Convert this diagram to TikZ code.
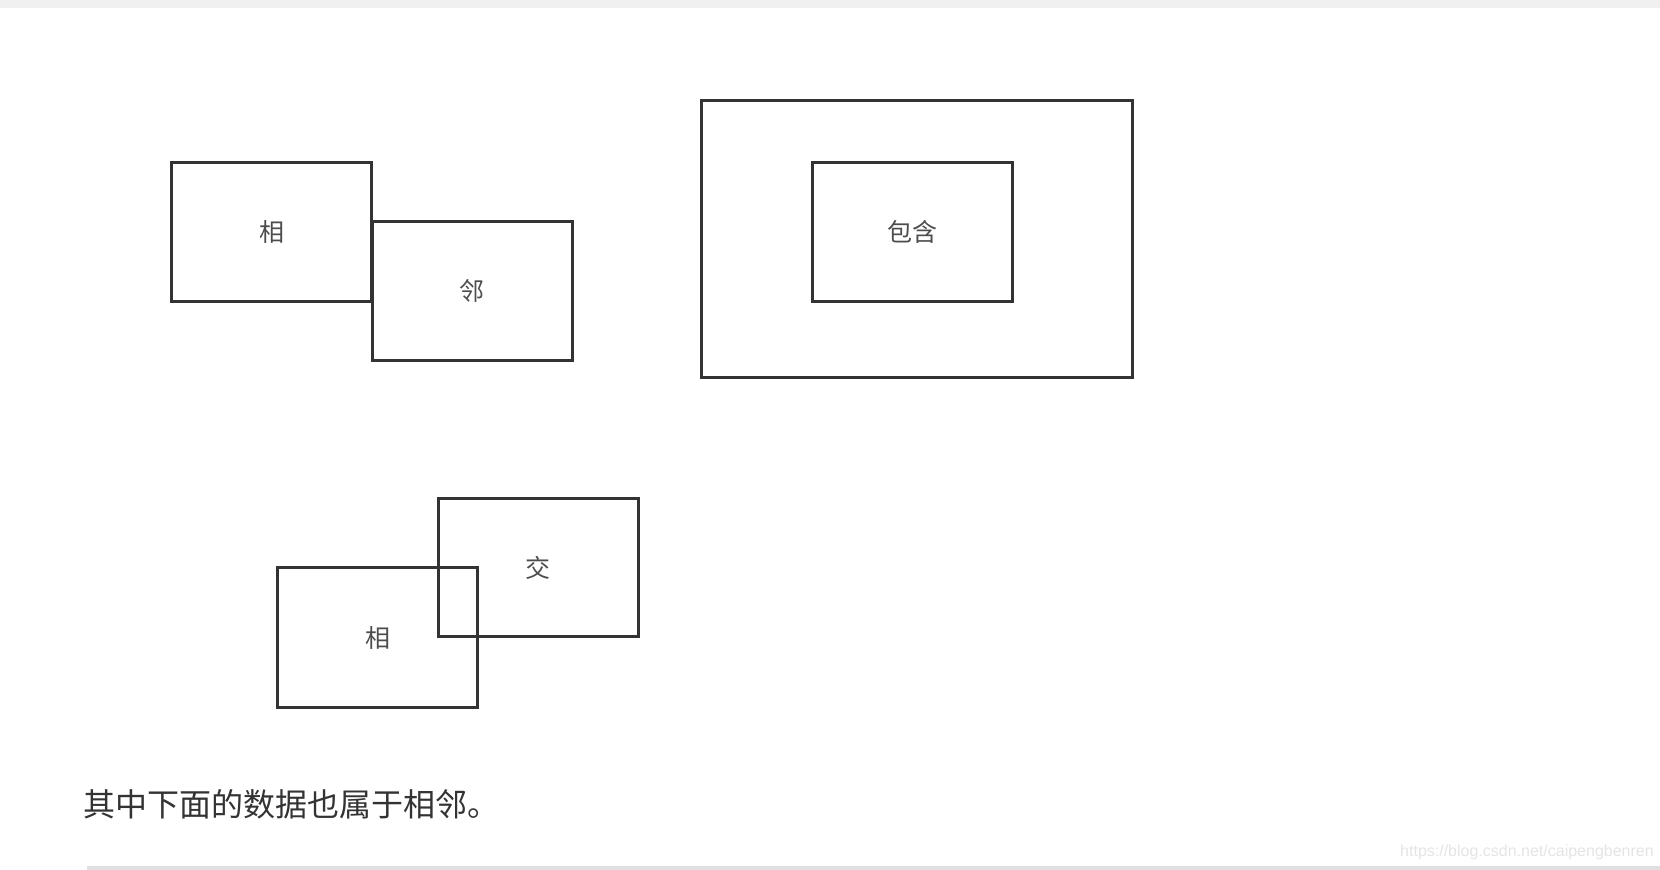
\documentclass[tikz,border=0pt]{standalone}
\usepackage{fontspec}
\usepackage{tikz}
\newfontfamily\cjk{Noto Sans CJK SC}
\newfontfamily\wmfont{Liberation Sans}
\definecolor{lncol}{HTML}{333333}
\definecolor{lblcol}{HTML}{4D4D4D}
\definecolor{barcol}{HTML}{F0F0F0}
\definecolor{rulecol}{HTML}{E0E0E0}
\definecolor{wmcol}{HTML}{E4E4E4}
\tikzset{%
    rct/.style={draw=lncol,line width=3pt,inner sep=0pt,outer sep=0pt,
        minimum width=200pt,minimum height=139pt,
        text=lblcol,font=\cjk\fontsize{25}{25}\selectfont}
}

\begin{document}
\begin{tikzpicture}[x=1pt,y=-1pt,
            note/.style={inner sep=0pt,anchor=west,text=lncol,font=\cjk\fontsize{32}{32}\selectfont}
            ]
            \useasboundingbox (0,0) rectangle (1660,870);
            \fill[barcol] (0,0) rectangle (1660,7.7);
            % adjacent
            \node[rct] (1a) at (271.5,232){相};
            \node[rct] (1b) at (472,291.2){邻};
            % contained
            \node[rct,minimum width=431pt,minimum height=277pt] (2a) at (917.2,238.7){};
            \node[rct] (2b) at (912,232){包含};
            % crossing
            \node[rct,minimum height=138pt] (3b) at (538,567.5){交};
            \node[rct,minimum height=140pt] (3a) at (377.7,637.5){相};
            \node[note] (t) at (83.5,804.5){其中下面的数据也属于相邻。};
            \node[inner sep=0pt,anchor=base west,text=wmcol,font=\wmfont\fontsize{16}{16}\selectfont] (wm) at (1400,856.5){https://blog.csdn.net/caipengbenren};
            \fill[rulecol] (87,866) rectangle (1660,870);
        \end{tikzpicture}
\end{document}
